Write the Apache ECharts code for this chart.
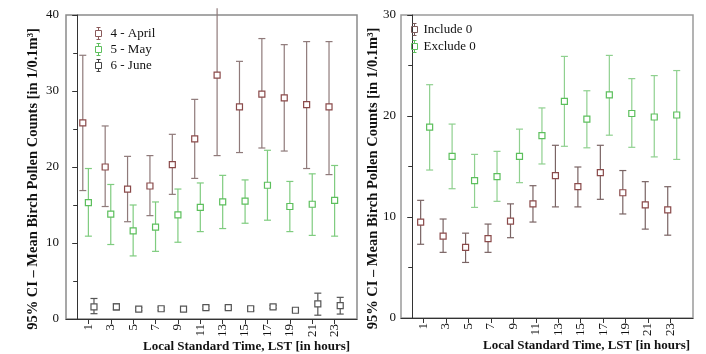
<!DOCTYPE html>
<html>
<head>
<meta charset="utf-8">
<script src="https://cdn.jsdelivr.net/npm/echarts@6/dist/echarts.min.js"></script>
<style>
  html, body { margin: 0; padding: 0; background: #fff; }
  #chart { width: 706px; height: 354px; }
</style>
</head>
<body>
<div id="chart"></div>
<script>
// hours (LST) and x tick labels
const hours = [1, 3, 5, 7, 9, 11, 13, 15, 17, 19, 21, 23];
const hourTicks = [1, 3, 5, 7, 9, 11, 13, 15, 17, 19, 21, 23];

// left panel: monthly means with 95% CI
const aprilMean = [25.8, 20.0, 17.1, 17.5, 20.3, 23.7, 32.1, 27.9, 29.6, 29.1, 28.2, 27.9];
const aprilLow  = [16.9, 14.8, 12.8, 13.6, 16.4, 18.5, 21.5, 21.9, 22.5, 22.1, 19.8, 19.0];
const aprilHigh = [34.7, 25.4, 21.4, 21.5, 24.3, 28.9, 40.9, 33.9, 36.9, 36.1, 36.5, 36.5];

const mayMean = [15.3, 13.8, 11.6, 12.1, 13.7, 14.7, 15.4, 15.5, 17.6, 14.8, 15.1, 15.6];
const mayLow  = [10.9, 9.8, 8.3, 8.9, 10.1, 11.5, 11.9, 12.6, 13.0, 11.5, 11.0, 10.9];
const mayHigh = [19.8, 17.7, 15.0, 15.4, 17.1, 17.9, 18.9, 18.3, 22.2, 18.1, 19.1, 20.2];

const juneMean = [1.6, 1.6, 1.3, 1.35, 1.3, 1.5, 1.5, 1.35, 1.6, 1.15, 2.0, 1.75];
const juneLow  = [0.7, 1.2, 1.1, 1.15, 1.1, 1.3, 1.3, 1.1, 1.4, 0.95, 0.5, 0.65];
const juneHigh = [2.7, 2.0, 1.5, 1.55, 1.5, 1.7, 1.7, 1.6, 1.8, 1.35, 3.4, 2.85];

// right panel: include / exclude zero counts
const inclMean = [9.5, 8.1, 7.0, 7.85, 9.6, 11.3, 14.1, 13.0, 14.4, 12.4, 11.2, 10.7];
const inclLow  = [7.3, 6.5, 5.5, 6.5, 7.95, 9.5, 11.0, 11.0, 11.75, 10.3, 8.8, 8.2];
const inclHigh = [11.65, 9.8, 8.4, 9.3, 11.3, 13.1, 17.1, 14.95, 17.1, 14.6, 13.5, 13.0];

const exclMean = [18.9, 16.0, 13.6, 14.0, 16.0, 18.05, 21.45, 19.7, 22.1, 20.25, 19.9, 20.1];
const exclLow  = [14.65, 12.8, 10.95, 11.55, 13.4, 15.25, 17.0, 16.85, 18.1, 16.9, 15.95, 15.7];
const exclHigh = [23.1, 19.2, 16.2, 16.5, 18.7, 20.8, 25.9, 22.5, 26.0, 23.7, 24.0, 24.5];

const FONT = "'Liberation Serif', 'Times New Roman', serif";
const legendIcon = 'path://M1,0 L5,0 M3,0 L3,3 M0,3 L6,3 L6,9 L0,9 Z M3,9 L3,12 M1,12 L5,12';

function rows(mean, low, high) {
  return hours.map((h, i) => [h, mean[i], low[i], high[i]]);
}

// error bar + hollow square, shifted sideways by `shift` hours
function errorBar(shift, barColor, boxColor) {
  return function (params, api) {
    const x = api.value(0) + shift;
    const pm = api.coord([x, api.value(1)]);
    const pl = api.coord([x, api.value(2)]);
    const ph = api.coord([x, api.value(3)]);
    const top = params.coordSys.y;
    const cap = 3.5, sq = 3;
    const line = { stroke: barColor, lineWidth: 1.2, fill: null };
    const children = [
      { type: 'line', shape: { x1: pl[0], y1: pl[1], x2: ph[0], y2: ph[1] }, style: line },
      { type: 'line', shape: { x1: pl[0] - cap, y1: pl[1], x2: pl[0] + cap, y2: pl[1] }, style: line }
    ];
    if (ph[1] >= top) {
      children.push({ type: 'line', shape: { x1: ph[0] - cap, y1: ph[1], x2: ph[0] + cap, y2: ph[1] }, style: line });
    }
    children.push({
      type: 'rect',
      shape: { x: pm[0] - sq, y: pm[1] - sq, width: sq * 2, height: sq * 2 },
      style: { stroke: boxColor, fill: '#fff', lineWidth: 1.2 }
    });
    return { type: 'group', children: children };
  };
}

function series(name, data, idx, shift, barColor, boxColor) {
  return {
    name: name,
    type: 'custom',
    xAxisIndex: idx,
    yAxisIndex: idx,
    clip: false,
    itemStyle: { color: boxColor },
    renderItem: errorBar(shift, barColor, boxColor),
    encode: { x: 0, y: [1, 2, 3] },
    data: data
  };
}

function xAxisCfg(idx, shiftPad) {
  return {
    type: 'value',
    gridIndex: idx,
    min: -1,
    max: 25,
    splitLine: { show: false },
    axisLine: { onZero: false, lineStyle: { color: '#333', width: 1 } },
    axisTick: { customValues: hourTicks, length: 5, lineStyle: { color: '#333' } },
    axisLabel: { customValues: hourTicks, rotate: 90, margin: 5, color: '#111', fontFamily: FONT, fontSize: 13 },
    name: 'Local Standard Time, LST [in hours]',
    nameLocation: 'middle',
    nameMoveOverlap: false,
    nameGap: 21,
    nameTextStyle: {
      fontFamily: FONT, fontSize: 13, fontWeight: 'bold', color: '#111',
      padding: [0, 0, 0, shiftPad]
    }
  };
}

function yAxisCfg(idx, max, gap, labelMargin) {
  return {
    type: 'value',
    gridIndex: idx,
    min: 0,
    max: max,
    interval: 10,
    splitLine: { show: false },
    axisLine: { show: true, lineStyle: { color: '#333', width: 1 } },
    axisTick: { show: true, length: 5, lineStyle: { color: '#333' } },
    minorTick: { show: true, splitNumber: 2, length: 4, lineStyle: { color: '#333' } },
    axisLabel: { margin: labelMargin, color: '#111', fontFamily: FONT, fontSize: 13 },
    name: '95% CI \u2013 Mean Birch Pollen Counts [in 1/0.1m\u00b3]',
    nameLocation: 'middle',
    nameRotate: 90,
    nameMoveOverlap: false,
    nameGap: gap,
    nameTextStyle: {
      fontFamily: FONT, fontSize: 14.5, fontWeight: 'bold', color: '#111',
      padding: [0, 24, 0, 0]
    }
  };
}

const chart = echarts.init(document.getElementById('chart'), null, { renderer: 'canvas' });

chart.setOption({
  backgroundColor: '#fff',
  animation: false,
  grid: [
    { left: 66, top: 15, width: 291, height: 304, outerBoundsMode: 'none', show: true, borderColor: '#8a8a8a', borderWidth: 1.5 },
    { left: 401, top: 15, width: 292, height: 303, outerBoundsMode: 'none', show: true, borderColor: '#9a9a9a', borderWidth: 1.5 }
  ],
  legend: [
    {
      orient: 'vertical', left: 88, top: 20, itemWidth: 6, itemHeight: 12, itemGap: -1,
      icon: legendIcon,
      textStyle: { fontFamily: FONT, fontSize: 13, color: '#111', padding: [0, 0, 0, 4] },
      data: [
        { name: '4 - April', itemStyle: { color: 'none', borderColor: '#8a5a5a', borderWidth: 1 } },
        { name: '5 - May', itemStyle: { color: 'none', borderColor: '#5cbf5c', borderWidth: 1 } },
        { name: '6 - June', itemStyle: { color: 'none', borderColor: '#444', borderWidth: 1 } }
      ]
    },
    {
      orient: 'vertical', left: 404, top: 16, itemWidth: 6, itemHeight: 12, itemGap: 0,
      icon: legendIcon,
      textStyle: { fontFamily: FONT, fontSize: 13, color: '#111', padding: [0, 0, 0, 1] },
      data: [
        { name: 'Include 0', itemStyle: { color: 'none', borderColor: '#7a5a5a', borderWidth: 1 } },
        { name: 'Exclude 0', itemStyle: { color: 'none', borderColor: '#5cbf5c', borderWidth: 1 } }
      ]
    }
  ],
  xAxis: [xAxisCfg(0, 70), xAxisCfg(1, 79)],
  yAxis: [yAxisCfg(0, 40, 25, 7), yAxisCfg(1, 30, 20, 5)],
  series: [
    series('4 - April', rows(aprilMean, aprilLow, aprilHigh), 0, -0.5, '#8f7a7a', '#8a4a4a'),
    series('5 - May', rows(mayMean, mayLow, mayHigh), 0, 0, '#7fcc7f', '#5cbf5c'),
    series('6 - June', rows(juneMean, juneLow, juneHigh), 0, 0.5, '#555', '#555'),
    series('Include 0', rows(inclMean, inclLow, inclHigh), 1, -0.25, '#7a6464', '#8a4a4a'),
    series('Exclude 0', rows(exclMean, exclLow, exclHigh), 1, 0.55, '#8fd08f', '#5cbf5c')
  ]
});
</script>
</body>
</html>
